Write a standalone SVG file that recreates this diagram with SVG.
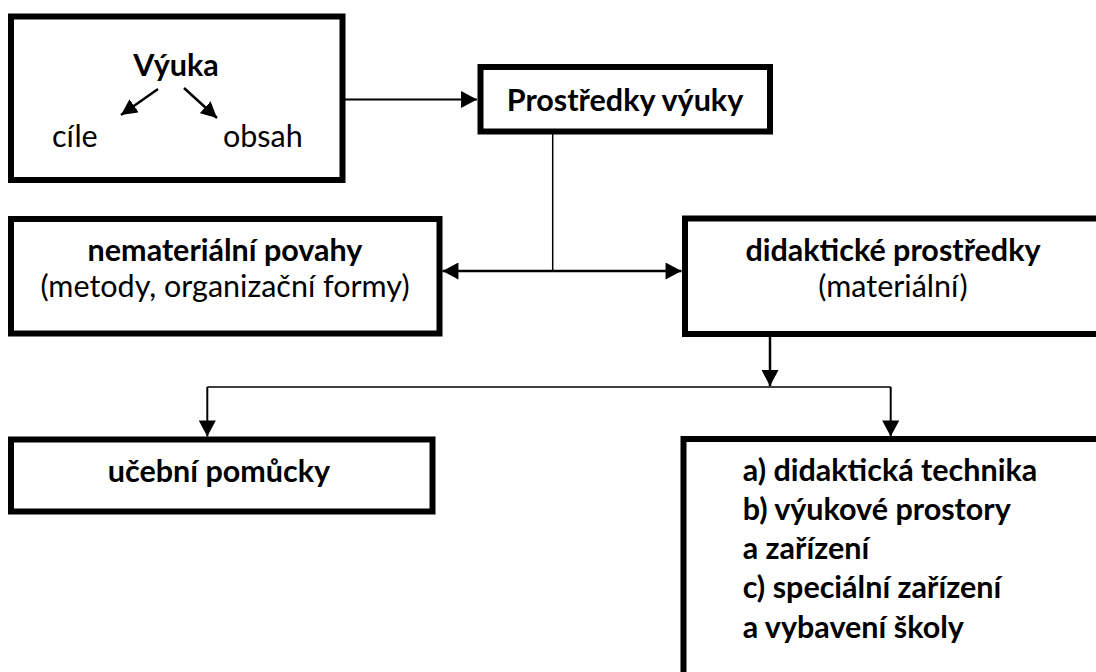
<svg xmlns="http://www.w3.org/2000/svg" width="1096" height="672" viewBox="0 0 1096 672">
  <style>
    .box { fill: #ffffff; stroke: #000000; stroke-width: 6; }
    .t { font-family: Lato, "Open Sans", "Liberation Sans", sans-serif; font-size: 30.5px; fill: #000000; }
    .b { font-weight: bold; }
    .c { text-anchor: middle; }
    .ln { fill: none; stroke: #000000; }
  </style>
  <defs>
    <marker id="arrow" markerUnits="userSpaceOnUse" markerWidth="17" markerHeight="17" viewBox="0 0 15 16" refX="15" refY="8" orient="auto">
      <path d="M0,0 L15,8 L0,16 Z" fill="#000000"/>
    </marker>
    <marker id="arrowStart" markerUnits="userSpaceOnUse" markerWidth="17" markerHeight="17" viewBox="0 0 15 16" refX="0" refY="8" orient="auto">
      <path d="M15,0 L0,8 L15,16 Z" fill="#000000"/>
    </marker>
    <marker id="arrowSmall" markerUnits="userSpaceOnUse" markerWidth="16" markerHeight="16" viewBox="0 0 15 15" refX="15" refY="7.5" orient="auto">
      <path d="M0,0 L15,7.5 L0,15 Z" fill="#000000"/>
    </marker>
  </defs>

  <!-- Výuka: goals and content -->
  <g id="vyuka">
    <rect class="box" x="11" y="16.5" width="331.5" height="163.5"/>
    <text class="t b c" x="176" y="76">Výuka</text>
    <text class="t" x="52" y="147">cíle</text>
    <text class="t" x="223" y="147">obsah</text>
  </g>

  <g id="prostredky">
    <rect class="box" x="480.5" y="67" width="289.5" height="64.5"/>
    <text class="t b c" x="625" y="110.5">Prostředky výuky</text>
  </g>

  <g id="nematerialni">
    <rect class="box" x="11" y="219" width="428.5" height="114.5"/>
    <text class="t b c" x="225" y="261">nemateriální povahy</text>
    <text class="t c" x="225" y="297">(metody, organizační formy)</text>
  </g>

  <g id="didakticke">
    <rect class="box" x="685" y="218.5" width="430" height="115.5"/>
    <text class="t b c" x="893" y="261">didaktické prostředky</text>
    <text class="t c" x="893" y="297">(materiální)</text>
  </g>

  <g id="ucebni">
    <rect class="box" x="11" y="439.5" width="421.5" height="72"/>
    <text class="t b c" x="219" y="481.5">učební pomůcky</text>
  </g>

  <g id="technika">
    <rect class="box" x="683.5" y="439" width="450" height="300"/>
    <text class="t b" x="742.7" y="480.5">a) didaktická technika</text>
    <text class="t b" x="742.7" y="519.8">b) výukové prostory</text>
    <text class="t b" x="742.7" y="559.1">a zařízení</text>
    <text class="t b" x="742.7" y="598.4">c) speciální zařízení</text>
    <text class="t b" x="742.7" y="637.7">a vybavení školy</text>
  </g>

  <!-- connectors, drawn over the boxes -->
  <g id="connectors">
    <line class="ln" x1="158" y1="89" x2="121" y2="115" stroke-width="2.5" marker-end="url(#arrowSmall)"/>
    <line class="ln" x1="184" y1="88" x2="217" y2="118" stroke-width="2.5" marker-end="url(#arrowSmall)"/>
    <line class="ln" x1="345" y1="99.5" x2="477" y2="99.5" stroke-width="2" marker-end="url(#arrow)"/>
    <line class="ln" x1="552.7" y1="134" x2="552.7" y2="271" stroke-width="1.5"/>
    <line class="ln" x1="442.5" y1="271" x2="681.5" y2="271" stroke-width="2.5" marker-start="url(#arrowStart)" marker-end="url(#arrow)"/>
    <line class="ln" x1="770" y1="336" x2="770" y2="386" stroke-width="2.5" marker-end="url(#arrow)"/>
    <line class="ln" x1="207.3" y1="387" x2="890.7" y2="387" stroke-width="1.5"/>
    <line class="ln" x1="207.3" y1="387" x2="207.3" y2="436.5" stroke-width="2" marker-end="url(#arrow)"/>
    <line class="ln" x1="890.7" y1="387" x2="890.7" y2="436.5" stroke-width="2" marker-end="url(#arrow)"/>
  </g>
</svg>
